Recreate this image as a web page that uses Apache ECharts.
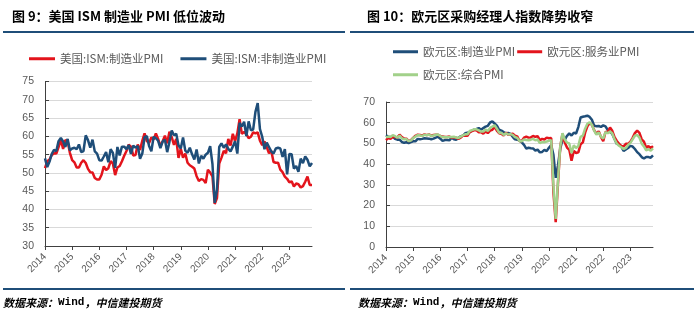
<!DOCTYPE html>
<html>
<head>
<meta charset="utf-8">
<script src="https://cdn.jsdelivr.net/npm/echarts@6/dist/echarts.min.js"></script>
<style>html,body{margin:0;padding:0;background:#fff}#c{width:700px;height:324px}</style>
</head>
<body>
<div id="c"></div>
<script>
// Tick labels
const yearLabels = ['2014','2015','2016','2017','2018','2019','2020','2021','2022','2023'];
// Monthly categories Jan 2014 .. Nov 2023
const months = [];
for (let y = 2014; y <= 2023; y++) for (let m = 1; m <= 12; m++) { if (y === 2023 && m > 11) break; months.push(y + '-' + (m < 10 ? '0' + m : m)); }

// Left chart: US ISM
const ismMfg = [
51.3,53.2,53.7,54.9,55.4,55.3,57.1,59.0,56.6,59.0,58.7,55.5,
53.5,52.9,51.5,51.5,52.8,53.5,52.7,51.1,50.2,50.1,48.6,48.2,
48.2,49.5,51.8,50.8,51.3,53.2,52.6,49.4,51.5,51.9,53.2,54.7,
56.0,57.7,57.2,54.8,54.9,57.8,56.3,58.8,60.8,58.7,58.2,59.7,
59.1,60.8,59.3,57.3,58.7,60.2,58.1,61.3,59.8,57.7,59.3,54.1,
56.6,54.2,55.3,52.8,52.1,51.7,51.2,49.1,47.8,48.3,48.1,47.2,
50.9,50.1,49.1,41.5,43.1,52.6,54.2,56.0,55.4,59.3,57.5,60.7,
58.7,60.8,64.7,60.7,61.2,60.6,59.5,59.9,61.1,60.8,61.1,58.8,
57.6,58.6,57.1,55.4,56.1,53.0,52.8,52.8,50.9,50.2,49.0,48.4,
47.4,47.7,46.3,47.1,46.9,46.0,46.4,47.6,49.0,46.7,46.7];
const ismNonMfg = [
54.0,51.6,53.1,55.2,56.3,56.0,58.7,59.6,58.6,57.1,59.3,56.2,
56.7,56.9,56.5,57.8,55.7,56.0,60.3,59.0,56.9,59.1,55.9,55.3,
53.5,53.4,54.5,55.7,52.9,56.5,55.5,51.4,57.1,54.8,57.2,57.2,
56.5,57.6,55.2,57.5,56.9,57.4,53.9,55.3,59.8,60.1,57.4,55.9,
59.9,59.5,58.8,56.8,58.6,59.1,55.7,58.5,61.6,60.3,60.7,57.6,
56.7,59.7,56.1,55.5,56.9,55.1,53.7,56.4,52.6,54.7,53.9,55.0,
55.5,57.3,52.5,41.8,45.4,57.1,58.1,56.9,57.8,56.6,55.9,57.2,
58.7,55.3,63.7,62.7,64.0,60.1,64.1,61.7,61.9,66.7,69.1,62.0,
59.9,56.5,58.3,57.1,55.9,55.3,56.7,56.9,56.7,54.4,56.5,49.6,
55.2,55.1,51.2,51.9,50.3,53.9,52.7,54.5,53.6,51.8,52.7];

// Right chart: Euro area PMI
const ezMfg = [
54.0,53.2,53.0,53.4,52.2,51.8,51.8,50.7,50.3,50.6,50.1,50.6,
51.0,51.0,52.2,52.0,52.2,52.5,52.4,52.3,52.0,52.3,52.8,53.2,
52.3,51.2,51.6,51.7,51.5,52.8,52.0,51.7,52.6,53.5,53.7,54.9,
55.2,55.4,56.2,56.7,57.0,57.4,56.6,57.4,58.1,58.5,60.1,60.6,
59.6,58.6,56.6,56.2,55.5,54.9,55.1,54.6,53.2,52.0,51.8,51.4,
50.5,49.3,47.5,47.9,47.7,47.6,46.5,47.0,45.7,45.9,46.9,46.3,
47.9,49.2,44.5,33.4,39.4,47.4,51.8,51.7,53.7,54.8,53.8,55.2,
54.8,57.9,62.5,62.9,63.1,63.4,62.8,61.4,58.6,58.3,58.4,58.0,
58.7,58.2,56.5,55.5,54.6,52.1,49.8,49.6,48.4,46.4,47.1,47.8,
48.8,48.5,47.3,45.8,44.8,43.4,42.7,43.5,43.4,43.1,44.2];
const ezSvc = [
51.6,52.6,52.2,53.1,53.2,52.8,54.2,53.1,52.4,52.3,51.1,51.6,
52.7,53.7,54.2,54.1,53.8,54.4,54.0,54.4,53.7,54.1,54.2,54.2,
53.6,53.3,53.1,53.1,53.3,52.8,52.9,52.8,52.2,52.8,53.8,53.7,
53.7,55.5,56.0,56.4,56.3,55.4,55.4,54.7,55.8,55.0,56.2,56.6,
58.0,56.2,54.9,54.7,53.8,55.2,54.2,54.4,54.7,53.7,53.4,51.2,
51.2,52.8,53.3,52.8,52.9,53.6,53.2,53.5,51.6,52.2,51.9,52.8,
52.5,52.6,26.4,12.0,30.5,48.3,54.7,50.5,48.0,46.9,41.7,46.4,
45.4,45.7,49.6,50.5,55.2,58.3,59.8,59.0,56.4,54.6,55.9,53.1,
51.1,55.5,55.6,57.7,56.1,53.0,51.2,49.8,48.8,48.6,49.8,49.8,
50.8,52.7,55.0,56.2,55.1,52.0,50.9,47.9,48.7,47.8,48.7];
const ezComp = [
52.9,53.3,53.1,54.0,53.5,52.8,53.8,52.5,52.0,52.1,51.1,51.4,
52.6,53.3,54.0,53.9,53.6,54.2,53.9,54.3,53.6,53.9,54.2,54.3,
53.6,53.0,53.1,53.0,53.1,53.1,53.2,52.9,52.6,53.3,53.9,54.4,
54.4,56.0,56.4,56.8,56.8,56.3,55.7,55.7,56.7,56.0,57.5,58.1,
58.8,57.1,55.2,55.1,54.1,54.9,54.3,54.5,54.1,53.1,52.7,51.1,
51.0,51.9,51.6,51.5,51.8,52.2,51.5,51.9,50.1,50.6,50.6,50.9,
51.3,51.6,29.7,13.6,31.9,48.5,54.9,51.9,50.4,50.0,45.3,49.1,
47.8,48.8,53.2,53.8,57.1,59.5,60.2,59.0,56.2,54.2,55.4,53.3,
52.3,55.5,54.9,55.8,54.8,52.0,49.9,48.9,48.1,47.3,47.8,49.3,
50.3,52.0,53.7,54.1,52.8,49.9,48.6,46.7,47.2,46.5,47.6];

const names = ['美国:ISM:制造业PMI','美国:ISM:非制造业PMI','欧元区:制造业PMI','欧元区:服务业PMI','欧元区:综合PMI'];
const RED = '#e3141c', BLUE = '#1f4e79', GREEN = '#a2d18a';
const CJK = '"Noto Sans CJK SC", "Noto Sans", sans-serif';
const AX = '"Liberation Sans", Arial, sans-serif';

function xAx(gi) {
  return {
    type: 'category', gridIndex: gi, data: months, boundaryGap: false,
    axisLine: { lineStyle: { color: '#404040', width: 1 } },
    axisTick: { show: true, inside: false, length: 4, interval: (i) => i % 12 === 0, lineStyle: { color: '#404040' } },
    axisLabel: { interval: (i) => i % 12 === 0, rotate: 45, margin: 9, fontSize: 10, color: '#595959', fontFamily: AX,
      formatter: (v, i) => yearLabels[Math.floor(i / 12)] },
    splitLine: { show: false }
  };
}
function yAx(gi, min, max, itv) {
  return {
    type: 'value', gridIndex: gi, min: min, max: max, interval: itv,
    axisLine: { show: true, lineStyle: { color: '#404040', width: 1 } },
    axisTick: { show: true, inside: true, length: 4, lineStyle: { color: '#404040' } },
    axisLabel: { fontSize: 10.5, color: '#595959', fontFamily: AX, margin: 11 },
    splitLine: { show: true, lineStyle: { color: '#d9d9d9', width: 1 } }
  };
}
function ln(name, data, color, xi) {
  return { name: name, type: 'line', data: data, xAxisIndex: xi, yAxisIndex: xi, showSymbol: false, symbol: 'none',
    lineStyle: { color: color, width: 2.5 }, itemStyle: { color: color }, animation: false };
}
const legendText = { fontSize: 11.5, color: '#595959', fontFamily: CJK };
const srcRich = {
  a: { font: 'italic bold 11px "Noto Sans CJK SC"', fill: '#000' },
  w: { font: 'bold 11px "Liberation Mono"', fill: '#000' }
};

const chart = echarts.init(document.getElementById('c'), null, { renderer: 'canvas' });
chart.setOption({
  animation: false,
  backgroundColor: '#ffffff',
  title: [
    { text: '图 9：美国 ISM 制造业 PMI 低位波动', left: 12, top: 10, padding: 0,
      textStyle: { fontSize: 13, fontWeight: 'bold', color: '#000', fontFamily: CJK } },
    { text: '图 10：欧元区采购经理人指数降势收窄', left: 367, top: 10, padding: 0,
      textStyle: { fontSize: 13, fontWeight: 'bold', color: '#000', fontFamily: CJK } }
  ],
  legend: [
    { data: [names[0], names[1]], left: 29, top: 53, padding: 0, icon: 'rect', itemWidth: 26, itemHeight: 3, itemGap: 17, textStyle: legendText },
    { data: [names[2], names[3]], left: 393, top: 46, padding: 0, icon: 'rect', itemWidth: 25, itemHeight: 3, itemGap: 2, textStyle: legendText },
    { data: [names[4]], left: 393, top: 69, padding: 0, icon: 'rect', itemWidth: 25, itemHeight: 3, itemGap: 2, textStyle: legendText }
  ],
  grid: [
    { left: 45, top: 81.6, width: 267, height: 164.4 },
    { left: 386, top: 102, width: 267, height: 145 }
  ],
  xAxis: [xAx(0), xAx(1)],
  yAxis: [yAx(0, 30, 75, 5), yAx(1, 0, 70, 10)],
  series: [
    ln(names[0], ismMfg, RED, 0),
    ln(names[1], ismNonMfg, BLUE, 0),
    ln(names[2], ezMfg, BLUE, 1),
    ln(names[3], ezSvc, RED, 1),
    ln(names[4], ezComp, GREEN, 1)
  ],
  graphic: [
    { type: 'rect', shape: { x: 3, y: 31, width: 342, height: 2 }, style: { fill: '#1f4e79' } },
    { type: 'rect', shape: { x: 350, y: 31, width: 344, height: 2 }, style: { fill: '#1f4e79' } },
    { type: 'rect', shape: { x: 3, y: 288, width: 342, height: 2 }, style: { fill: '#1f4e79' } },
    { type: 'rect', shape: { x: 350, y: 288, width: 344, height: 2 }, style: { fill: '#1f4e79' } },
    { type: 'text', left: 3, top: 297, style: { text: '{a|数据来源：}{w|Wind}{a|，中信建投期货}', rich: srcRich } },
    { type: 'text', left: 358, top: 297, style: { text: '{a|数据来源：}{w|Wind}{a|，中信建投期货}', rich: srcRich } }
  ]
});
</script>
</body>
</html>
